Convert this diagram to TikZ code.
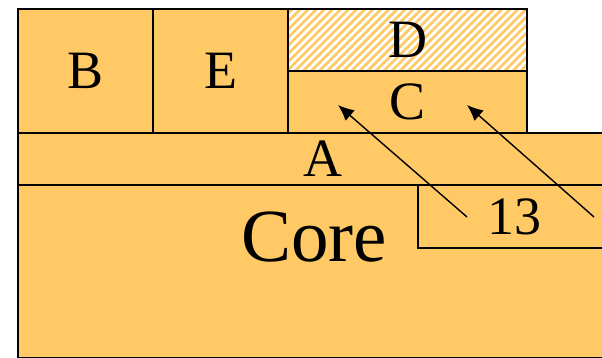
\documentclass[tikz,border=0pt]{standalone}
\usepackage{fontspec}
\setmainfont{Liberation Serif}
\usetikzlibrary{arrows.meta,patterns.meta}
\definecolor{layer}{RGB}{255,202,102}

\begin{document}
\begin{tikzpicture}[x=1pt,y=-1pt,>={Latex[length=16pt,width=14pt]},
  blk/.style={draw,fill=layer,line width=1.6pt,inner sep=0pt,outer sep=0pt,
    anchor=north west,font=\fontsize{54}{60}\selectfont},
  hatch/.style={preaction={fill=white},fill=none,
    pattern={Lines[angle=45,distance=5.7pt,line width=2.7pt]},pattern color=layer}]
 \useasboundingbox (0,0) rectangle (602,358);
 \clip (0,0) rectangle (602,358);
 % layers
 \node[blk,minimum width=610pt,minimum height=173pt] (core) at (18,185) {};
 \node[font=\fontsize{75}{80}\selectfont] (corelbl) at (314,237) {Core};
 \node[blk,minimum width=610pt,minimum height=52pt] (A) at (18,133) {A};
 \node[blk,minimum width=193pt,minimum height=63pt] (n13) at (418,185) {13};
 \node[blk,minimum width=135pt,minimum height=124pt] (B) at (18,9) {B};
 \node[blk,minimum width=135pt,minimum height=124pt] (E) at (153,9) {E};
 \node[blk,hatch,minimum width=239pt,minimum height=62pt] (D) at (288,9) {D};
 \node[blk,minimum width=239pt,minimum height=62pt] (C) at (288,71) {C};
 % pointers
 \coordinate (t1) at (467,217);
 \coordinate (h1) at (338,105);
 \coordinate (t2) at (594,217);
 \coordinate (h2) at (467,105);
 \draw[->,line width=1.4pt] (t1)--(h1);
 \draw[->,line width=1.4pt] (t2)--(h2);
\end{tikzpicture}
\end{document}
